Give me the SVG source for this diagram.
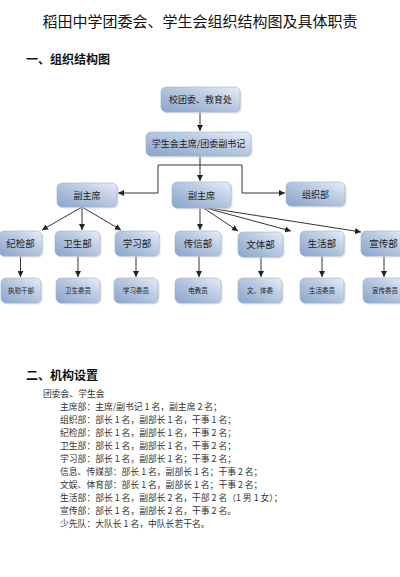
<svg xmlns="http://www.w3.org/2000/svg" width="400" height="577" viewBox="0 0 400 577">
<style>
text{font-family:"Noto Sans CJK SC","Noto Sans",sans-serif;fill:#222}
.title{font-size:15px;fill:#111}
.h{font-size:12px;font-weight:bold;fill:#111}
.box{fill:url(#g);stroke:#9fb1cb;stroke-width:0.6}
.sh{fill:#c9ced6;opacity:0.6}
.t2{font-size:9px;text-anchor:middle}
.t3{font-size:9.5px;text-anchor:middle}
.t4{font-size:6.5px;text-anchor:middle}
.lst{font-size:8.8px;fill:#333}
.c{stroke:#333;stroke-width:1;fill:none}
.ca{stroke:#333;stroke-width:1;fill:none;marker-end:url(#ah)}
</style>
<defs>
<linearGradient id="g" x1="0" y1="1" x2="1" y2="0">
<stop offset="0" stop-color="#8aa4cc"/>
<stop offset="0.6" stop-color="#bccbe2"/>
<stop offset="1" stop-color="#e8eef7"/>
</linearGradient>
<marker id="ah" viewBox="0 0 10 10" refX="10" refY="5" markerWidth="6" markerHeight="6" markerUnits="userSpaceOnUse" orient="auto">
<path d="M0,0 L10,5 L0,10 z" fill="#222"/>
</marker>
</defs>
<rect width="400" height="577" fill="#fff"/>
<text class="title" x="200" y="27" text-anchor="middle">稻田中学团委会、学生会组织结构图及具体职责</text>
<text class="h" x="26" y="64">一、组织结构图</text>

<g id="connectors">
<line class="ca" x1="200" y1="112" x2="200" y2="131"/>
<line class="ca" x1="200" y1="156" x2="200" y2="181"/>
<polyline class="c" points="158,193 158,165 242,165 242,193"/>
<line class="ca" x1="158" y1="193" x2="118" y2="193"/>
<line class="ca" x1="242" y1="193" x2="285" y2="193"/>
<line class="ca" x1="82" y1="207" x2="42" y2="230"/>
<line class="ca" x1="82" y1="207" x2="82" y2="230"/>
<line class="ca" x1="82" y1="207" x2="121" y2="230"/>
<line class="ca" x1="200" y1="208" x2="200" y2="230"/>
<line class="ca" x1="202" y1="207" x2="238" y2="231"/>
<line class="ca" x1="202" y1="207" x2="291" y2="231"/>
<line class="ca" x1="202" y1="207" x2="361" y2="232"/>
<line class="ca" x1="20.5" y1="256" x2="20.5" y2="277"/>
<line class="ca" x1="78" y1="256" x2="78" y2="277"/>
<line class="ca" x1="136" y1="256" x2="136" y2="277"/>
<line class="ca" x1="199" y1="256" x2="199" y2="277"/>
<line class="ca" x1="261" y1="257" x2="261" y2="277"/>
<line class="ca" x1="322" y1="256" x2="322" y2="277"/>
<line class="ca" x1="384" y1="256" x2="384" y2="277"/>
</g>

<g id="n1"><rect class="sh" x="162.5" y="88.5" width="79" height="25" rx="5"/><rect class="box" x="161" y="87" width="79" height="25" rx="5"/><text class="t2" x="200.5" y="102.5">校团委、教育处</text></g>
<g id="n2"><rect class="sh" x="147.5" y="133.5" width="105" height="24" rx="5"/><rect class="box" x="146" y="132" width="105" height="24" rx="5"/><text class="t2" x="198.5" y="147">学生会主席/团委副书记</text></g>
<g id="vp1"><rect class="sh" x="58.5" y="184.5" width="60" height="24" rx="5"/><rect class="box" x="57" y="183" width="60" height="24" rx="5"/><text class="t2" x="87" y="198.5">副主席</text></g>
<g id="vp2"><rect class="sh" x="173.5" y="183.5" width="59" height="26" rx="5"/><rect class="box" x="172" y="182" width="59" height="26" rx="5"/><text class="t2" x="201.5" y="198.5">副主席</text></g>
<g id="zuzhi"><rect class="sh" x="287.5" y="183.5" width="59" height="24" rx="5"/><rect class="box" x="286" y="182" width="59" height="24" rx="5"/><text class="t2" x="315.5" y="197.5">组织部</text></g>

<g id="jijian"><rect class="sh" x="0.5" y="232.5" width="43" height="25" rx="5"/><rect class="box" x="-1" y="231" width="43" height="25" rx="5"/><text class="t3" x="20.5" y="247">纪检部</text></g>
<g id="weisheng"><rect class="sh" x="56.5" y="232.5" width="45" height="25" rx="5"/><rect class="box" x="55" y="231" width="45" height="25" rx="5"/><text class="t3" x="77.5" y="247">卫生部</text></g>
<g id="xuexi"><rect class="sh" x="116.5" y="232.5" width="44" height="25" rx="5"/><rect class="box" x="115" y="231" width="44" height="25" rx="5"/><text class="t3" x="137" y="247">学习部</text></g>
<g id="chuanxin"><rect class="sh" x="176.5" y="232.5" width="46" height="25" rx="5"/><rect class="box" x="175" y="231" width="46" height="25" rx="5"/><text class="t3" x="198" y="247">传信部</text></g>
<g id="wenti"><rect class="sh" x="239.5" y="233.5" width="45" height="25" rx="5"/><rect class="box" x="238" y="232" width="45" height="25" rx="5"/><text class="t3" x="260.5" y="248">文体部</text></g>
<g id="shenghuo"><rect class="sh" x="301.5" y="232.5" width="44" height="25" rx="5"/><rect class="box" x="300" y="231" width="44" height="25" rx="5"/><text class="t3" x="322" y="247">生活部</text></g>
<g id="xuanchuan"><rect class="sh" x="362.5" y="232.5" width="45" height="25" rx="5"/><rect class="box" x="361" y="231" width="45" height="25" rx="5"/><text class="t3" x="383.5" y="247">宣传部</text></g>

<g id="zhiqin"><rect class="sh" x="2.5" y="279.5" width="40" height="25" rx="5"/><rect class="box" x="1" y="278" width="40" height="25" rx="5"/><text class="t4" x="21" y="293">执勤干部</text></g>
<g id="wsweiyuan"><rect class="sh" x="57.5" y="279.5" width="44" height="25" rx="5"/><rect class="box" x="56" y="278" width="44" height="25" rx="5"/><text class="t4" x="78" y="293">卫生委员</text></g>
<g id="xxweiyuan"><rect class="sh" x="115.5" y="279.5" width="44" height="25" rx="5"/><rect class="box" x="114" y="278" width="44" height="25" rx="5"/><text class="t4" x="136" y="293">学习委员</text></g>
<g id="dianjiao"><rect class="sh" x="176.5" y="279.5" width="46" height="25" rx="5"/><rect class="box" x="175" y="278" width="46" height="25" rx="5"/><text class="t4" x="198" y="293">电教员</text></g>
<g id="wentiwei"><rect class="sh" x="239.5" y="279.5" width="44" height="25" rx="5"/><rect class="box" x="238" y="278" width="44" height="25" rx="5"/><text class="t4" x="260" y="293">文、体委</text></g>
<g id="shweiyuan"><rect class="sh" x="301.5" y="279.5" width="44" height="25" rx="5"/><rect class="box" x="300" y="278" width="44" height="25" rx="5"/><text class="t4" x="322" y="293">生活委员</text></g>
<g id="xcweiyuan"><rect class="sh" x="364.5" y="279.5" width="44" height="25" rx="5"/><rect class="box" x="363" y="278" width="44" height="25" rx="5"/><text class="t4" x="385" y="293">宣传委员</text></g>

<text class="h" x="26" y="380">二、机构设置</text>
<g id="list">
<text class="lst" x="43" y="397">团委会、学生会</text>
<text class="lst" x="60" y="410">主席部：主席/副书记 1 名，副主席  2 名；</text>
<text class="lst" x="60" y="423">组织部：部长 1 名，副部长 1 名，干事 1 名；</text>
<text class="lst" x="60" y="436">纪检部：部长 1 名，副部长 1 名，干事 2 名；</text>
<text class="lst" x="60" y="449">卫生部：部长 1 名，副部长 1 名，干事 2 名；</text>
<text class="lst" x="60" y="462">学习部：部长 1 名，副部长 1 名；干事 2 名；</text>
<text class="lst" x="60" y="475">信息、传媒部：部长 1 名，副部长 1 名；干事 2 名；</text>
<text class="lst" x="60" y="488">文娱、体育部：部长 1 名，副部长 1 名；干事 2 名；</text>
<text class="lst" x="60" y="501">生活部：部长 1 名，副部长 2 名，干部 2 名（1 男 1 女）；</text>
<text class="lst" x="60" y="514">宣传部：部长 1 名，副部长 2 名，干事 2 名。</text>
<text class="lst" x="60" y="527">少先队：大队长 1 名，中队长若干名。</text>
</g>
</svg>
